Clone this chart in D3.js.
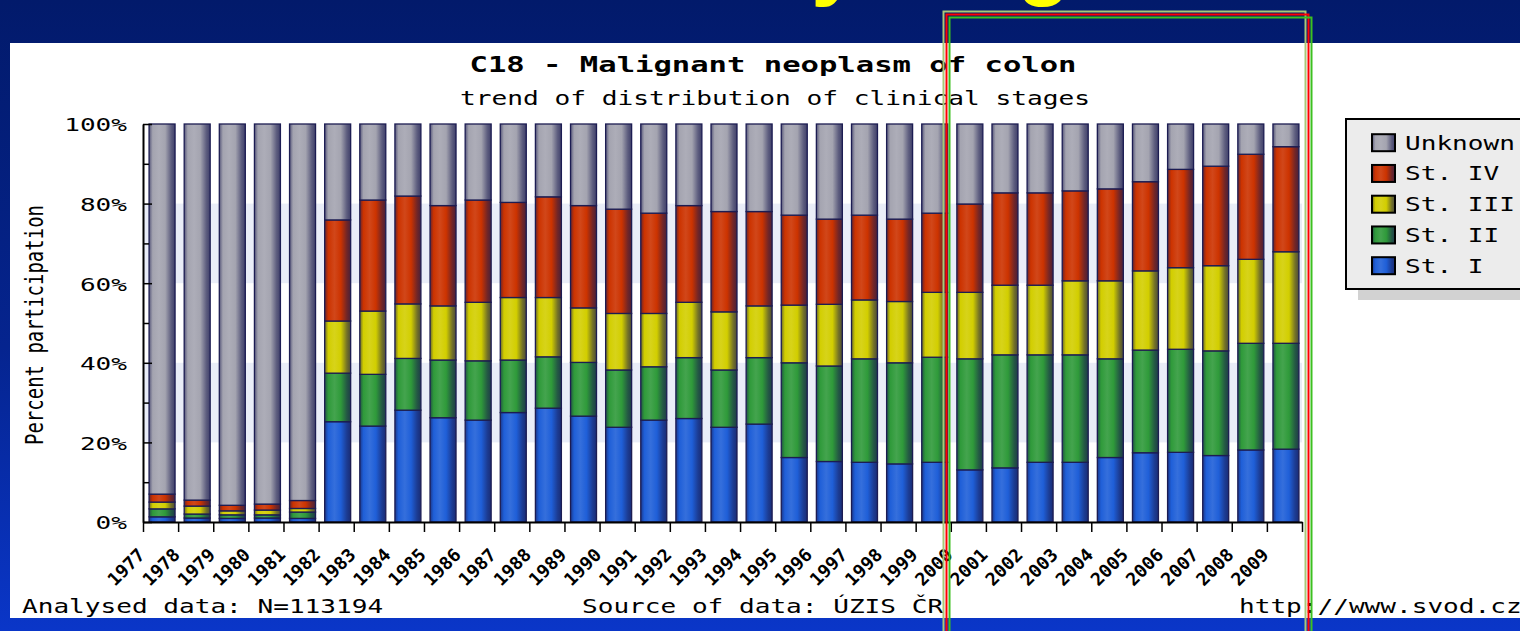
<!DOCTYPE html>
<html>
<head>
<meta charset="utf-8">
<script src="https://cdnjs.cloudflare.com/ajax/libs/d3/7.8.5/d3.min.js"></script>
<style>
  html, body { margin: 0; padding: 0; overflow: hidden; background: #021a6b; }
  svg { display: block; }
</style>
</head>
<body>
<script>
'use strict';

// data (percent of cases per year)
var years = [1977, 1978, 1979, 1980, 1981, 1982, 1983, 1984, 1985, 1986, 1987,
  1988, 1989, 1990, 1991, 1992, 1993, 1994, 1995, 1996, 1997, 1998,
  1999, 2000, 2001, 2002, 2003, 2004, 2005, 2006, 2007, 2008, 2009];
var stageI   = [1.3, 1.0, 0.9, 1.0, 0.9, 25.2, 24.1, 28.1, 26.2, 25.6, 27.5,
  28.6, 26.6, 23.8, 25.6, 26.0, 23.8, 24.6, 16.2, 15.2, 15.0, 14.6,
  15.0, 13.1, 13.6, 15.0, 15.0, 16.2, 17.4, 17.5, 16.7, 18.1, 18.3];
var stageII  = [2.0, 1.0, 0.9, 0.8, 1.6, 12.2, 13.0, 13.0, 14.5, 14.9, 13.2,
  12.9, 13.5, 14.4, 13.4, 15.3, 14.4, 16.7, 23.8, 24.0, 26.0, 25.4,
  26.4, 27.9, 28.4, 27.0, 27.0, 24.8, 25.8, 25.9, 26.3, 26.8, 26.6];
var stageIII = [1.7, 2.0, 1.0, 1.2, 0.9, 13.1, 15.9, 13.7, 13.6, 14.7, 15.7,
  14.9, 13.7, 14.2, 13.4, 13.9, 14.6, 13.0, 14.5, 15.5, 14.8, 15.4,
  16.3, 16.7, 17.5, 17.5, 18.6, 19.6, 19.9, 20.5, 21.4, 21.1, 23.0];
var stageIV  = [2.0, 1.5, 1.4, 1.5, 2.0, 25.4, 27.9, 27.1, 25.2, 25.7, 23.9,
  25.3, 25.7, 26.2, 25.2, 24.3, 25.2, 23.7, 22.6, 21.4, 21.3, 20.7,
  19.9, 22.2, 23.2, 23.2, 22.6, 23.1, 22.4, 24.7, 25.0, 26.4, 26.4];
var unknown  = [93.0, 94.5, 95.8, 95.5, 94.6, 24.1, 19.1, 18.1, 20.5, 19.1, 19.7,
  18.3, 20.5, 21.4, 22.4, 20.5, 22.0, 22.0, 22.9, 23.9, 22.9, 23.9,
  22.4, 20.1, 17.3, 17.3, 16.8, 16.3, 14.5, 11.4, 10.6, 7.6, 5.7];

var keys = ['stageI', 'stageII', 'stageIII', 'stageIV', 'unknown'];
var seriesNames = ['St. I', 'St. II', 'St. III', 'St. IV', 'Unknown'];
var seriesColors = ['#1f5fd8', '#2f9a3a', '#d2ce00', '#cc3300', '#a4a4b0'];
var yTicks = [0, 20, 40, 60, 80, 100];
var yMinorTicks = [10, 30, 50, 70, 90];

var rows = years.map(function(y, i){
  return {year: y, stageI: stageI[i], stageII: stageII[i], stageIII: stageIII[i],
    stageIV: stageIV[i], unknown: unknown[i]};
});
var stacked = d3.stack().keys(keys)(rows);

var width = 1520, height = 631;
var mono = "'DejaVu Sans Mono', monospace";
var charW = 15.7; // pixel width of one character of the stretched chart font

var svg = d3.select('body').append('svg')
  .attr('width', width)
  .attr('height', height);

var defs = svg.append('defs');

// slide background
var bg = defs.append('linearGradient').attr('id', 'slideBg')
  .attr('x1', 0).attr('x2', 0).attr('y1', 0).attr('y2', 1);
bg.append('stop').attr('offset', '0%').attr('stop-color', '#021a6b');
bg.append('stop').attr('offset', '55%').attr('stop-color', '#05248f');
bg.append('stop').attr('offset', '100%').attr('stop-color', '#0a36c8');

svg.append('rect')
  .attr('width', width).attr('height', height)
  .attr('fill', 'url(#slideBg)');

// slide heading: only the tips of its descenders reach into the picture
var headingText = 'Distribution by stage';
var heading = svg.append('text')
  .attr('x', 0).attr('y', 0)
  .attr('font-family', "'Liberation Sans', Arial, sans-serif")
  .attr('font-weight', 'bold')
  .attr('font-size', 90)
  .attr('fill', '#ffff00')
  .text(headingText);
var hb = heading.node().getBBox();
var descent = hb.y + hb.height;
var yPos = heading.node().getStartPositionOfChar(headingText.indexOf('y')).x;
heading.attr('x', 811 - yPos).attr('y', 7 - descent);

// white chart panel
svg.append('rect')
  .attr('x', 10).attr('y', 43)
  .attr('width', 1510).attr('height', 575)
  .attr('fill', '#ffffff');

// bar gradients (cylinder look)
function addGrad(id, base){
  var dark = d3.interpolateRgb(base, '#18184e');
  var light = d3.interpolateRgb(base, '#ffffff');
  var g = defs.append('linearGradient').attr('id', id)
    .attr('x1', '0%').attr('x2', '100%').attr('y1', '0%').attr('y2', '0%');
  [[0, dark(0.55)], [0.14, base], [0.38, light(0.1)], [0.62, base],
   [0.85, dark(0.5)], [1, dark(0.72)]].forEach(function(s){
    g.append('stop').attr('offset', s[0]).attr('stop-color', s[1]);
  });
}
keys.forEach(function(k, i){ addGrad('grad-' + k, seriesColors[i]); });

// scales
var xTick = d3.scaleBand().domain(years).range([143, 1302]).padding(0);
var xBar = d3.scaleBand().domain(years).range([143, 1302])
  .paddingInner(0.26).paddingOuter(0.13);
var y = d3.scaleLinear().domain([0, 100]).range([522, 124]);

// background bands
[[60, 80], [20, 40]].forEach(function(b){
  svg.append('rect')
    .attr('x', 143).attr('y', y(b[1]))
    .attr('width', 1159).attr('height', y(b[0]) - y(b[1]))
    .attr('fill', '#e9edf8');
});

// title
svg.append('text')
  .attr('x', 773).attr('y', 72)
  .attr('text-anchor', 'middle')
  .attr('font-family', mono).attr('font-weight', 'bold').attr('font-size', 21)
  .attr('textLength', 607).attr('lengthAdjust', 'spacingAndGlyphs')
  .text('C18 - Malignant neoplasm of colon');

svg.append('text')
  .attr('x', 775).attr('y', 105)
  .attr('text-anchor', 'middle')
  .attr('font-family', mono).attr('font-size', 19)
  .attr('textLength', 630).attr('lengthAdjust', 'spacingAndGlyphs')
  .text('trend of distribution of clinical stages');

// bars
var layers = svg.append('g').selectAll('g')
    .data(stacked)
  .enter().append('g')
    .attr('fill', function(d){ return 'url(#grad-' + d.key + ')'; });

layers.selectAll('rect')
    .data(function(d){ return d; })
  .enter().append('rect')
    .attr('x', function(d){ return xBar(d.data.year) + 1.5; })
    .attr('y', function(d){ return y(d[1]); })
    .attr('width', xBar.bandwidth())
    .attr('height', function(d){ return y(d[0]) - y(d[1]); })
    .attr('stroke', '#1c1c52')
    .attr('stroke-width', 1.3);

// y axis
var yAxis = d3.axisLeft(y)
  .tickValues(yTicks)
  .tickSize(-9)
  .tickSizeOuter(0)
  .tickPadding(16)
  .tickFormat(function(d){ return d + '%'; });

var gy = svg.append('g')
  .attr('transform', 'translate(143,0)')
  .call(yAxis);
gy.select('.domain').attr('stroke', '#000').attr('stroke-width', 2);
gy.selectAll('.tick line').attr('stroke', '#000').attr('stroke-width', 1.5);
gy.selectAll('.tick text')
  .attr('font-family', mono).attr('font-size', 17).attr('fill', '#000')
  .attr('dy', '0.4em')
  .attr('textLength', function(d){ return (d + '%').length * charW; })
  .attr('lengthAdjust', 'spacingAndGlyphs');

var gyMinor = svg.append('g')
  .attr('transform', 'translate(143,0)')
  .call(d3.axisLeft(y).tickValues(yMinorTicks).tickSize(-6).tickFormat(''));
gyMinor.select('.domain').remove();
gyMinor.selectAll('.tick line').attr('stroke', '#000').attr('stroke-width', 1.5);

svg.append('text')
  .attr('transform', 'translate(43,325) rotate(-90)')
  .attr('text-anchor', 'middle')
  .attr('font-family', mono).attr('font-size', 24)
  .attr('textLength', 240).attr('lengthAdjust', 'spacingAndGlyphs')
  .text('Percent participation');

// x axis: ticks between the bars
var xLin = d3.scaleLinear().domain([0, years.length]).range([143, 1302]);
var gx = svg.append('g')
  .attr('transform', 'translate(0,522)')
  .call(d3.axisBottom(xLin).tickValues(d3.range(years.length + 1))
    .tickSize(10).tickSizeOuter(0).tickFormat(''));
gx.select('.domain').attr('stroke', '#000').attr('stroke-width', 2);
gx.selectAll('.tick line').attr('stroke', '#000').attr('stroke-width', 1.5);

svg.append('g').selectAll('text')
    .data(years)
  .enter().append('text')
    .attr('transform', function(d){ return 'translate(' + (xTick(d) + 3) + ',556) rotate(-45)'; })
    .attr('text-anchor', 'end')
    .attr('font-family', mono).attr('font-weight', 'bold').attr('font-size', 18)
    .attr('textLength', 44).attr('lengthAdjust', 'spacingAndGlyphs')
    .text(function(d){ return d; });

// footer texts
[['Analysed data: N=113194', 22], ['Source of data: ÚZIS ČR', 582], ['http://www.svod.cz', 1239]]
  .forEach(function(t){
    svg.append('text')
      .attr('x', t[1]).attr('y', 613)
      .attr('font-family', mono).attr('font-size', 19)
      .attr('textLength', t[0].length * charW).attr('lengthAdjust', 'spacingAndGlyphs')
      .text(t[0]);
  });

// legend
svg.append('rect')
  .attr('x', 1358).attr('y', 129).attr('width', 200).attr('height', 171)
  .attr('fill', '#d2d2d2');
svg.append('rect')
  .attr('x', 1346).attr('y', 119).attr('width', 200).attr('height', 170)
  .attr('fill', '#ececec').attr('stroke', '#000').attr('stroke-width', 2);

var legendOrder = [4, 3, 2, 1, 0];
var legend = svg.append('g').selectAll('g')
    .data(legendOrder)
  .enter().append('g')
    .attr('transform', function(d, i){ return 'translate(1372,' + (142.7 + i * 30.75) + ')'; });

legend.append('rect')
  .attr('x', 0).attr('y', -8.5).attr('width', 23).attr('height', 17)
  .attr('fill', function(d){ return 'url(#grad-' + keys[d] + ')'; })
  .attr('stroke', '#000').attr('stroke-width', 2);

legend.append('text')
  .attr('x', 33).attr('y', 7)
  .attr('font-family', mono).attr('font-size', 19)
  .attr('textLength', function(d){ return seriesNames[d].length * charW; })
  .attr('lengthAdjust', 'spacingAndGlyphs')
  .text(function(d){ return seriesNames[d]; });

// highlight frame drawn over the slide
[['#a8c878', 943.5, 11.5], ['#ff0000', 946.5, 14.5], ['#3cc020', 949.5, 17.5]]
  .forEach(function(f){
    svg.append('rect')
      .attr('x', f[1]).attr('y', f[2])
      .attr('width', 362).attr('height', 650)
      .attr('fill', 'none')
      .attr('stroke', f[0]).attr('stroke-width', 2);
  });
</script>
</body>
</html>
